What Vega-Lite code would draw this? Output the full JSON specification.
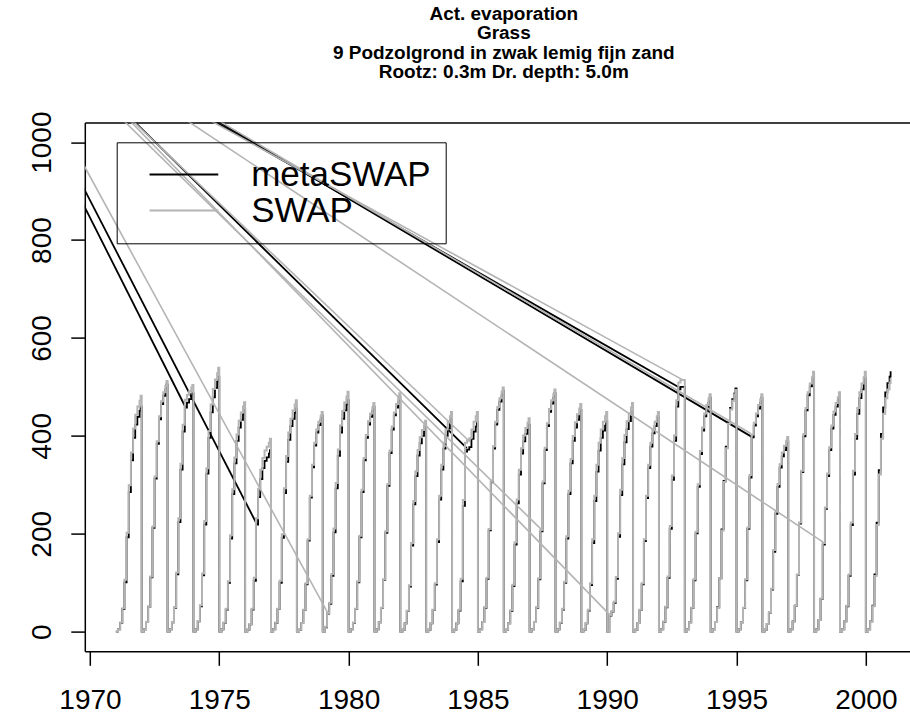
{
"$schema":"https://vega.github.io/schema/vega-lite/v6.json",
"width":825,"height":528.7,
"autosize":{"type":"none"},
"padding":{"left":84.8,"top":122.6,"right":0,"bottom":67.7},
"background":"white",
"title":{"text":["Act. evaporation","Grass","9 Podzolgrond in zwak lemig fijn zand","Rootz: 0.3m  Dr. depth: 5.0m"],"font":"Liberation Sans","fontSize":19,"fontWeight":"bold","lineHeight":19.5,"anchor":"middle","dx":6.5,"offset":29,"color":"black"},
"config":{"view":{"stroke":null},"axis":{"grid":false,"labelFont":"Liberation Sans","labelColor":"black","tickColor":"black","domainColor":"black","domainWidth":1.5,"tickWidth":1.5},
"legend":{"orient":"none","legendX":31.9,"legendY":19.7,"strokeColor":"black","padding":14.7,"symbolType":"M-5,0H5","symbolSize":189,"symbolStrokeWidth":2,"symbolOffset":35,"labelOffset":49.8,"labelFont":"Liberation Sans","labelFontSize":35,"labelColor":"black","rowPadding":-3.3,"labelLimit":0}},
"datasets":{
"yr":[
{"t":1971,"m":0,"s":0},{"t":1971.083,"m":5,"s":5},{"t":1971.167,"m":18,"s":19},{"t":1971.25,"m":46,"s":48},{"t":1971.333,"m":101,"s":106},{"t":1971.417,"m":193,"s":202},{"t":1971.5,"m":285,"s":299},{"t":1971.583,"m":350,"s":366},{"t":1971.667,"m":396,"s":415},{"t":1971.75,"m":423,"s":443},{"t":1971.833,"m":439,"s":460},{"t":1971.917,"m":451,"s":472},{"t":1971.958,"m":460,"s":482},
{"t":1972,"m":0,"s":0},{"t":1972.083,"m":5,"s":5},{"t":1972.167,"m":20,"s":20},{"t":1972.25,"m":51,"s":51},{"t":1972.333,"m":111,"s":113},{"t":1972.417,"m":212,"s":215},{"t":1972.5,"m":313,"s":317},{"t":1972.583,"m":384,"s":389},{"t":1972.667,"m":434,"s":440},{"t":1972.75,"m":465,"s":471},{"t":1972.833,"m":482,"s":489},{"t":1972.917,"m":495,"s":502},{"t":1972.958,"m":505,"s":512},
{"t":1973,"m":0,"s":0},{"t":1973.083,"m":5,"s":5},{"t":1973.167,"m":19,"s":20},{"t":1973.25,"m":49,"s":50},{"t":1973.333,"m":117,"s":121},{"t":1973.417,"m":224,"s":232},{"t":1973.5,"m":331,"s":343},{"t":1973.583,"m":409,"s":423},{"t":1973.667,"m":458,"s":474},{"t":1973.75,"m":468,"s":484},{"t":1973.833,"m":475,"s":491},{"t":1973.917,"m":482,"s":499},{"t":1973.958,"m":487,"s":504},
{"t":1974,"m":0,"s":0},{"t":1974.083,"m":5,"s":5},{"t":1974.167,"m":21,"s":22},{"t":1974.25,"m":52,"s":54},{"t":1974.333,"m":115,"s":119},{"t":1974.417,"m":219,"s":226},{"t":1974.5,"m":323,"s":334},{"t":1974.583,"m":396,"s":410},{"t":1974.667,"m":448,"s":464},{"t":1974.75,"m":479,"s":496},{"t":1974.833,"m":498,"s":515},{"t":1974.917,"m":511,"s":528},{"t":1974.958,"m":521,"s":539},
{"t":1975,"m":0,"s":0},{"t":1975.083,"m":5,"s":5},{"t":1975.167,"m":18,"s":19},{"t":1975.25,"m":45,"s":47},{"t":1975.333,"m":100,"s":103},{"t":1975.417,"m":190,"s":197},{"t":1975.5,"m":281,"s":291},{"t":1975.583,"m":344,"s":356},{"t":1975.667,"m":390,"s":403},{"t":1975.75,"m":417,"s":431},{"t":1975.833,"m":433,"s":448},{"t":1975.917,"m":444,"s":460},{"t":1975.958,"m":453,"s":469},
{"t":1976,"m":0,"s":0},{"t":1976.083,"m":4,"s":4},{"t":1976.167,"m":15,"s":16},{"t":1976.25,"m":45,"s":47},{"t":1976.333,"m":104,"s":110},{"t":1976.417,"m":219,"s":232},{"t":1976.5,"m":275,"s":292},{"t":1976.583,"m":312,"s":331},{"t":1976.667,"m":334,"s":355},{"t":1976.75,"m":349,"s":370},{"t":1976.833,"m":356,"s":378},{"t":1976.917,"m":364,"s":386},{"t":1976.958,"m":371,"s":394},
{"t":1977,"m":0,"s":0},{"t":1977.083,"m":5,"s":5},{"t":1977.167,"m":18,"s":19},{"t":1977.25,"m":46,"s":47},{"t":1977.333,"m":100,"s":104},{"t":1977.417,"m":192,"s":199},{"t":1977.5,"m":283,"s":293},{"t":1977.583,"m":347,"s":359},{"t":1977.667,"m":392,"s":407},{"t":1977.75,"m":420,"s":435},{"t":1977.833,"m":435,"s":452},{"t":1977.917,"m":447,"s":464},{"t":1977.958,"m":456,"s":473},
{"t":1978,"m":0,"s":0},{"t":1978.083,"m":4,"s":4},{"t":1978.167,"m":18,"s":18},{"t":1978.25,"m":44,"s":45},{"t":1978.333,"m":97,"s":99},{"t":1978.417,"m":186,"s":189},{"t":1978.5,"m":274,"s":278},{"t":1978.583,"m":336,"s":341},{"t":1978.667,"m":380,"s":386},{"t":1978.75,"m":407,"s":413},{"t":1978.833,"m":422,"s":429},{"t":1978.917,"m":433,"s":440},{"t":1978.958,"m":442,"s":449},
{"t":1979,"m":0,"s":0},{"t":1979.083,"m":9,"s":10},{"t":1979.167,"m":37,"s":38},{"t":1979.25,"m":57,"s":59},{"t":1979.333,"m":114,"s":118},{"t":1979.417,"m":203,"s":211},{"t":1979.5,"m":293,"s":304},{"t":1979.583,"m":359,"s":372},{"t":1979.667,"m":407,"s":421},{"t":1979.75,"m":435,"s":451},{"t":1979.833,"m":452,"s":468},{"t":1979.917,"m":464,"s":480},{"t":1979.958,"m":473,"s":490},
{"t":1980,"m":0,"s":0},{"t":1980.083,"m":5,"s":5},{"t":1980.167,"m":18,"s":19},{"t":1980.25,"m":46,"s":47},{"t":1980.333,"m":101,"s":103},{"t":1980.417,"m":193,"s":196},{"t":1980.5,"m":285,"s":290},{"t":1980.583,"m":350,"s":355},{"t":1980.667,"m":396,"s":402},{"t":1980.75,"m":423,"s":430},{"t":1980.833,"m":439,"s":446},{"t":1980.917,"m":451,"s":458},{"t":1980.958,"m":460,"s":467},
{"t":1981,"m":0,"s":0},{"t":1981.083,"m":5,"s":5},{"t":1981.167,"m":19,"s":19},{"t":1981.25,"m":48,"s":49},{"t":1981.333,"m":106,"s":107},{"t":1981.417,"m":202,"s":205},{"t":1981.5,"m":298,"s":302},{"t":1981.583,"m":365,"s":370},{"t":1981.667,"m":413,"s":419},{"t":1981.75,"m":442,"s":448},{"t":1981.833,"m":458,"s":465},{"t":1981.917,"m":470,"s":477},{"t":1981.958,"m":480,"s":487},
{"t":1982,"m":0,"s":0},{"t":1982.083,"m":4,"s":4},{"t":1982.167,"m":17,"s":17},{"t":1982.25,"m":42,"s":43},{"t":1982.333,"m":92,"s":95},{"t":1982.417,"m":176,"s":181},{"t":1982.5,"m":260,"s":267},{"t":1982.583,"m":318,"s":328},{"t":1982.667,"m":360,"s":371},{"t":1982.75,"m":385,"s":397},{"t":1982.833,"m":400,"s":412},{"t":1982.917,"m":411,"s":422},{"t":1982.958,"m":419,"s":431},
{"t":1983,"m":0,"s":0},{"t":1983.083,"m":4,"s":4},{"t":1983.167,"m":17,"s":18},{"t":1983.25,"m":44,"s":45},{"t":1983.333,"m":96,"s":99},{"t":1983.417,"m":183,"s":189},{"t":1983.5,"m":270,"s":278},{"t":1983.583,"m":331,"s":341},{"t":1983.667,"m":374,"s":386},{"t":1983.75,"m":400,"s":413},{"t":1983.833,"m":415,"s":429},{"t":1983.917,"m":426,"s":440},{"t":1983.958,"m":435,"s":449},
{"t":1984,"m":0,"s":0},{"t":1984.083,"m":4,"s":4},{"t":1984.167,"m":17,"s":18},{"t":1984.25,"m":43,"s":45},{"t":1984.333,"m":103,"s":108},{"t":1984.417,"m":257,"s":269},{"t":1984.5,"m":368,"s":386},{"t":1984.583,"m":372,"s":391},{"t":1984.667,"m":377,"s":395},{"t":1984.75,"m":394,"s":413},{"t":1984.833,"m":409,"s":429},{"t":1984.917,"m":419,"s":440},{"t":1984.958,"m":428,"s":449},
{"t":1985,"m":0,"s":0},{"t":1985.083,"m":5,"s":5},{"t":1985.167,"m":20,"s":20},{"t":1985.25,"m":49,"s":50},{"t":1985.333,"m":108,"s":110},{"t":1985.417,"m":207,"s":210},{"t":1985.5,"m":305,"s":309},{"t":1985.583,"m":374,"s":379},{"t":1985.667,"m":423,"s":429},{"t":1985.75,"m":453,"s":459},{"t":1985.833,"m":470,"s":477},{"t":1985.917,"m":482,"s":489},{"t":1985.958,"m":492,"s":499},
{"t":1986,"m":0,"s":0},{"t":1986.083,"m":4,"s":4},{"t":1986.167,"m":17,"s":17},{"t":1986.25,"m":42,"s":44},{"t":1986.333,"m":93,"s":96},{"t":1986.417,"m":178,"s":183},{"t":1986.5,"m":262,"s":270},{"t":1986.583,"m":321,"s":331},{"t":1986.667,"m":364,"s":375},{"t":1986.75,"m":389,"s":401},{"t":1986.833,"m":404,"s":416},{"t":1986.917,"m":415,"s":427},{"t":1986.958,"m":423,"s":436},
{"t":1987,"m":0,"s":0},{"t":1987.083,"m":5,"s":5},{"t":1987.167,"m":20,"s":20},{"t":1987.25,"m":49,"s":50},{"t":1987.333,"m":107,"s":109},{"t":1987.417,"m":205,"s":208},{"t":1987.5,"m":303,"s":307},{"t":1987.583,"m":371,"s":376},{"t":1987.667,"m":420,"s":426},{"t":1987.75,"m":449,"s":455},{"t":1987.833,"m":466,"s":473},{"t":1987.917,"m":478,"s":485},{"t":1987.958,"m":488,"s":495},
{"t":1988,"m":0,"s":0},{"t":1988.083,"m":5,"s":5},{"t":1988.167,"m":18,"s":19},{"t":1988.25,"m":45,"s":47},{"t":1988.333,"m":100,"s":102},{"t":1988.417,"m":190,"s":195},{"t":1988.5,"m":281,"s":288},{"t":1988.583,"m":344,"s":353},{"t":1988.667,"m":390,"s":400},{"t":1988.75,"m":417,"s":428},{"t":1988.833,"m":433,"s":444},{"t":1988.917,"m":444,"s":456},{"t":1988.958,"m":453,"s":465},
{"t":1989,"m":0,"s":0},{"t":1989.083,"m":4,"s":4},{"t":1989.167,"m":17,"s":18},{"t":1989.25,"m":43,"s":45},{"t":1989.333,"m":95,"s":99},{"t":1989.417,"m":181,"s":189},{"t":1989.5,"m":267,"s":278},{"t":1989.583,"m":327,"s":341},{"t":1989.667,"m":370,"s":386},{"t":1989.75,"m":396,"s":413},{"t":1989.833,"m":411,"s":429},{"t":1989.917,"m":421,"s":440},{"t":1989.958,"m":430,"s":449},
{"t":1990,"m":0,"s":0},{"t":1990.083,"m":33,"s":34},{"t":1990.167,"m":41,"s":42},{"t":1990.25,"m":59,"s":61},{"t":1990.333,"m":108,"s":112},{"t":1990.417,"m":194,"s":201},{"t":1990.5,"m":279,"s":290},{"t":1990.583,"m":342,"s":355},{"t":1990.667,"m":387,"s":402},{"t":1990.75,"m":414,"s":430},{"t":1990.833,"m":430,"s":446},{"t":1990.917,"m":441,"s":458},{"t":1990.958,"m":450,"s":467},
{"t":1991,"m":0,"s":0},{"t":1991.083,"m":4,"s":4},{"t":1991.167,"m":18,"s":18},{"t":1991.25,"m":44,"s":45},{"t":1991.333,"m":97,"s":99},{"t":1991.417,"m":185,"s":189},{"t":1991.5,"m":273,"s":278},{"t":1991.583,"m":334,"s":341},{"t":1991.667,"m":378,"s":386},{"t":1991.75,"m":405,"s":413},{"t":1991.833,"m":420,"s":429},{"t":1991.917,"m":431,"s":440},{"t":1991.958,"m":440,"s":449},
{"t":1992,"m":0,"s":0},{"t":1992.083,"m":5,"s":5},{"t":1992.167,"m":20,"s":21},{"t":1992.25,"m":50,"s":51},{"t":1992.333,"m":110,"s":113},{"t":1992.417,"m":210,"s":216},{"t":1992.5,"m":310,"s":319},{"t":1992.583,"m":390,"s":401},{"t":1992.667,"m":460,"s":473},{"t":1992.75,"m":495,"s":509},{"t":1992.833,"m":500,"s":514},{"t":1992.917,"m":500,"s":514},{"t":1992.958,"m":500,"s":514},
{"t":1993,"m":0,"s":0},{"t":1993.083,"m":5,"s":5},{"t":1993.167,"m":19,"s":19},{"t":1993.25,"m":48,"s":49},{"t":1993.333,"m":105,"s":107},{"t":1993.417,"m":201,"s":204},{"t":1993.5,"m":296,"s":301},{"t":1993.583,"m":363,"s":369},{"t":1993.667,"m":411,"s":417},{"t":1993.75,"m":440,"s":446},{"t":1993.833,"m":456,"s":463},{"t":1993.917,"m":468,"s":475},{"t":1993.958,"m":478,"s":485},
{"t":1994,"m":0,"s":0},{"t":1994.083,"m":5,"s":5},{"t":1994.167,"m":20,"s":20},{"t":1994.25,"m":50,"s":49},{"t":1994.333,"m":109,"s":109},{"t":1994.417,"m":209,"s":207},{"t":1994.5,"m":308,"s":306},{"t":1994.583,"m":378,"s":375},{"t":1994.667,"m":427,"s":425},{"t":1994.75,"m":457,"s":454},{"t":1994.833,"m":475,"s":472},{"t":1994.917,"m":487,"s":484},{"t":1994.958,"m":497,"s":494},
{"t":1995,"m":0,"s":0},{"t":1995.083,"m":5,"s":5},{"t":1995.167,"m":19,"s":19},{"t":1995.25,"m":48,"s":49},{"t":1995.333,"m":105,"s":107},{"t":1995.417,"m":210,"s":213},{"t":1995.5,"m":315,"s":320},{"t":1995.583,"m":397,"s":403},{"t":1995.667,"m":421,"s":427},{"t":1995.75,"m":440,"s":446},{"t":1995.833,"m":456,"s":463},{"t":1995.917,"m":468,"s":475},{"t":1995.958,"m":478,"s":485},
{"t":1996,"m":0,"s":0},{"t":1996.083,"m":4,"s":4},{"t":1996.167,"m":16,"s":16},{"t":1996.25,"m":39,"s":40},{"t":1996.333,"m":86,"s":88},{"t":1996.417,"m":163,"s":167},{"t":1996.5,"m":241,"s":247},{"t":1996.583,"m":296,"s":302},{"t":1996.667,"m":335,"s":342},{"t":1996.75,"m":358,"s":366},{"t":1996.833,"m":371,"s":380},{"t":1996.917,"m":381,"s":390},{"t":1996.958,"m":389,"s":398},
{"t":1997,"m":0,"s":0},{"t":1997.083,"m":5,"s":5},{"t":1997.167,"m":21,"s":21},{"t":1997.25,"m":53,"s":53},{"t":1997.333,"m":116,"s":117},{"t":1997.417,"m":221,"s":223},{"t":1997.5,"m":326,"s":329},{"t":1997.583,"m":399,"s":404},{"t":1997.667,"m":452,"s":457},{"t":1997.75,"m":483,"s":489},{"t":1997.833,"m":501,"s":507},{"t":1997.917,"m":515,"s":520},{"t":1997.958,"m":525,"s":531},
{"t":1998,"m":0,"s":0},{"t":1998.083,"m":5,"s":5},{"t":1998.167,"m":24,"s":24},{"t":1998.25,"m":67,"s":68},{"t":1998.333,"m":178,"s":181},{"t":1998.417,"m":251,"s":254},{"t":1998.5,"m":318,"s":323},{"t":1998.583,"m":371,"s":377},{"t":1998.667,"m":415,"s":421},{"t":1998.75,"m":443,"s":450},{"t":1998.833,"m":460,"s":467},{"t":1998.917,"m":472,"s":479},{"t":1998.958,"m":482,"s":489},
{"t":1999,"m":0,"s":0},{"t":1999.083,"m":5,"s":5},{"t":1999.167,"m":21,"s":21},{"t":1999.25,"m":52,"s":53},{"t":1999.333,"m":114,"s":117},{"t":1999.417,"m":218,"s":223},{"t":1999.5,"m":321,"s":329},{"t":1999.583,"m":394,"s":404},{"t":1999.667,"m":445,"s":457},{"t":1999.75,"m":477,"s":489},{"t":1999.833,"m":495,"s":507},{"t":1999.917,"m":508,"s":520},{"t":1999.958,"m":518,"s":531},
{"t":2000,"m":0,"s":0},{"t":2000.083,"m":5,"s":5},{"t":2000.167,"m":21,"s":21},{"t":2000.25,"m":53,"s":52},{"t":2000.333,"m":117,"s":114},{"t":2000.417,"m":223,"s":218},{"t":2000.5,"m":330,"s":321},{"t":2000.583,"m":404,"s":394},{"t":2000.667,"m":458,"s":445},{"t":2000.75,"m":489,"s":477},{"t":2000.833,"m":508,"s":495},{"t":2000.917,"m":521,"s":508},{"t":2000.958,"m":532,"s":518}
],
"dg":[
{"c":"metaSWAP","t1":1969.0,"v1":951,"t2":1973.71,"v2":457},
{"c":"metaSWAP","t1":1969.0,"v1":984,"t2":1976.45,"v2":220},
{"c":"metaSWAP","t1":1970.6,"v1":1100,"t2":1984.57,"v2":375},
{"c":"metaSWAP","t1":1972.915,"v1":1100,"t2":1992.82,"v2":498},
{"c":"metaSWAP","t1":1973.105,"v1":1100,"t2":1995.59,"v2":398},
{"c":"SWAP","t1":1969.0,"v1":1027,"t2":1979.2,"v2":38},
{"c":"SWAP","t1":1970.53,"v1":1100,"t2":1984.69,"v2":388},
{"c":"SWAP","t1":1970.22,"v1":1100,"t2":1987.47,"v2":208},
{"c":"SWAP","t1":1970.51,"v1":1100,"t2":1990.11,"v2":34},
{"c":"SWAP","t1":1972.153,"v1":1100,"t2":1998.35,"v2":183},
{"c":"SWAP","t1":1972.725,"v1":1100,"t2":1992.94,"v2":514},
{"c":"SWAP","t1":1973.17,"v1":1100,"t2":1995.55,"v2":405}
]},
"resolve":{"axis":{"x":"independent"}},
"layer":[
{"data":{"name":"yr"},"mark":{"type":"line","interpolate":"step-after","color":"black","strokeWidth":1.8,"clip":true},
"encoding":{"x":{"field":"t","type":"quantitative","title":null,"scale":{"domain":[1969.8,2001.7],"nice":false,"zero":false},
"axis":{"orient":"bottom","values":[1970,1975,1980,1985,1990,1995,2000],"format":"d","labelFontSize":28,"tickSize":14,"labelPadding":21,"domain":true,"labelFlush":false,"labelOverlap":false}},
"y":{"field":"m","type":"quantitative","title":null,"scale":{"domain":[-40,1040],"nice":false,"zero":false},
"axis":{"orient":"left","values":[0,200,400,600,800,1000],"format":"d","labelFontSize":28,"tickSize":14,"labelPadding":20,"labelAngle":270,"labelAlign":"center","labelBaseline":"alphabetic","domain":true,"labelFlush":false,"labelOverlap":false}}}},
{"data":{"name":"dg"},"transform":[{"filter":{"field":"c","equal":"metaSWAP"}}],"mark":{"type":"rule","strokeWidth":1.8,"clip":true},
"encoding":{"x":{"field":"t1","type":"quantitative","title":null,"axis":null},"x2":{"field":"t2"},"y":{"field":"v1","type":"quantitative","title":null},"y2":{"field":"v2"},
"color":{"field":"c","type":"nominal","scale":{"domain":["metaSWAP","SWAP"],"range":["black","#b4b4b4"]},"legend":{"title":null}}}},
{"data":{"name":"yr"},"mark":{"type":"line","interpolate":"step-after","color":"#b4b4b4","strokeWidth":2,"clip":true},
"encoding":{"x":{"field":"t","type":"quantitative","title":null,"axis":{"orient":"top","labels":false,"ticks":false,"domain":true}},
"y":{"field":"s","type":"quantitative","title":null}}},
{"data":{"name":"dg"},"transform":[{"filter":{"field":"c","equal":"SWAP"}}],"mark":{"type":"rule","strokeWidth":1.6,"clip":true},
"encoding":{"x":{"field":"t1","type":"quantitative","title":null,"axis":null},"x2":{"field":"t2"},"y":{"field":"v1","type":"quantitative","title":null},"y2":{"field":"v2"},
"color":{"field":"c","type":"nominal","scale":{"domain":["metaSWAP","SWAP"],"range":["black","#b4b4b4"]},"legend":{"title":null}}}}
]
}
